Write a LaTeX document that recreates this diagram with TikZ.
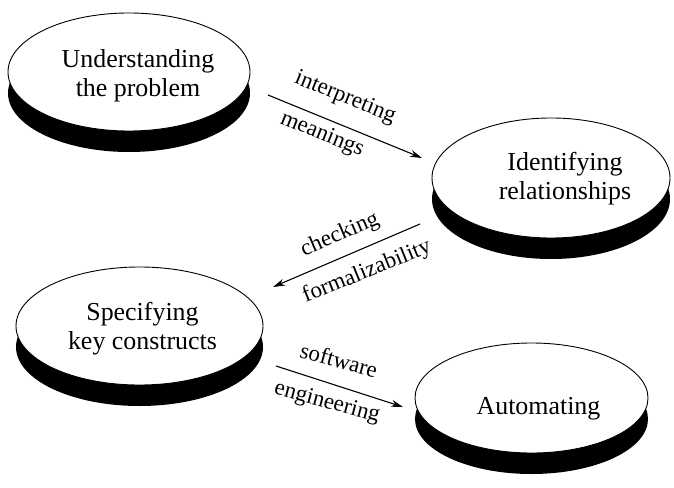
\documentclass[tikz,border=0pt]{standalone}
\usepackage{fontspec}
\setmainfont{Liberation Serif}
\usetikzlibrary{arrows.meta,shapes.geometric,shadows}

\begin{document}
\begin{tikzpicture}[x=1bp,y=-1bp,
  disk/.style={ellipse, draw=black, line width=0.9bp, fill=white,
    inner sep=0pt,
    drop shadow={shadow xshift=0bp, shadow yshift=-21bp, fill=black, opacity=1}},
  title/.style={align=center, inner sep=0pt, font=\fontsize{26}{29}\selectfont},
  flow/.style={line width=1.1bp, -{Stealth[length=12bp,width=7bp]}},
  note/.style={font=\fontsize{23}{26}\selectfont, inner sep=0pt}]
\useasboundingbox (0,0) rectangle (674,488);

% stages, each a disc with its caption
\node[disk, minimum width=242bp, minimum height=118bp,
      label={[title, xshift=9bp, yshift=-4bp]center:Understanding\\the problem}]
  (under) at (129,72) {};
\node[disk, minimum width=238bp, minimum height=120bp,
      label={[title, xshift=14bp, yshift=-1bp]center:Identifying\\relationships}]
  (ident) at (551,178) {};
\node[disk, minimum width=247bp, minimum height=118bp,
      label={[title, xshift=3bp, yshift=-3bp]center:Specifying\\key constructs}]
  (spec) at (139.5,326) {};
\node[disk, minimum width=233bp, minimum height=110bp,
      label={[title, xshift=7bp, yshift=-11bp]center:Automating}]
  (auto) at (531.5,398) {};

% arrow end points
\coordinate (p1s) at (268,95);   \coordinate (p1e) at (422,158);
\coordinate (p2s) at (420,224);  \coordinate (p2e) at (273,287);
\coordinate (p3s) at (276,366);  \coordinate (p3e) at (403,407);

\draw[flow] (p1s) -- (p1e);
\draw[flow] (p2s) -- (p2e);
\draw[flow] (p3s) -- (p3e);

% arrow labels
\node[note, rotate=-22] (l1a) at (345,98)  {interpreting};
\node[note, rotate=-22] (l1b) at (322,135) {meanings};
\node[note, rotate=23]  (l2a) at (340,235) {checking};
\node[note, rotate=22]  (l2b) at (367,272) {formalizability};
\node[note, rotate=-15] (l3a) at (339,360) {software};
\node[note, rotate=-15] (l3b) at (327,403) {engineering};
\end{tikzpicture}
\end{document}
